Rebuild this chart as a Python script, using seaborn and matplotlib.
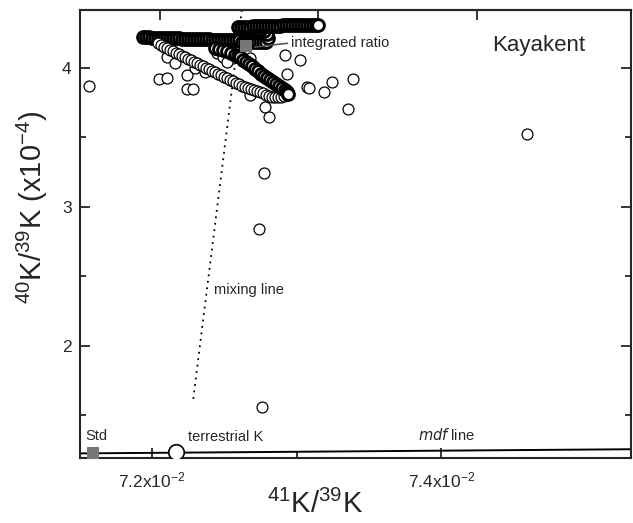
import matplotlib
matplotlib.use("Agg")
import matplotlib.pyplot as plt
import seaborn as sns
import pandas as pd

# ---------------- data (x in units of 1e-2, y in units of 1e-4) ----------------
# dense time-resolved trajectory: long band (left -> right)
band_long_x = [7.1938, 7.1959, 7.1979, 7.2000, 7.2021, 7.2041, 7.2062, 7.2083, 7.2103, 7.2124,
               7.2145, 7.2166, 7.2186, 7.2207, 7.2228, 7.2248, 7.2269, 7.2290, 7.2310, 7.2331,
               7.2352, 7.2372, 7.2393, 7.2414, 7.2434, 7.2455, 7.2476, 7.2497, 7.2517, 7.2538,
               7.2559, 7.2579, 7.2600, 7.2621, 7.2641, 7.2662, 7.2683, 7.2703, 7.2724, 7.2745,
               7.2766, 7.2786]
band_long_y = [4.223, 4.223, 4.223, 4.216, 4.216, 4.216, 4.216, 4.216, 4.216, 4.216,
               4.216, 4.216, 4.216, 4.209, 4.209, 4.209, 4.209, 4.209, 4.209, 4.209,
               4.209, 4.209, 4.209, 4.201, 4.201, 4.201, 4.201, 4.201, 4.201, 4.201,
               4.201, 4.201, 4.201, 4.187, 4.187, 4.187, 4.187, 4.187, 4.187, 4.187,
               4.187, 4.187]
# lower (open) branch of the loop
band_low_x = [7.2041, 7.2062, 7.2083, 7.2103, 7.2124, 7.2145, 7.2166, 7.2186, 7.2207, 7.2228,
              7.2248, 7.2269, 7.2290, 7.2310, 7.2331, 7.2352, 7.2372, 7.2393, 7.2414, 7.2434,
              7.2455, 7.2476, 7.2497, 7.2517, 7.2538, 7.2559, 7.2579, 7.2600, 7.2621, 7.2641,
              7.2662, 7.2683, 7.2703, 7.2724, 7.2745, 7.2766, 7.2786, 7.2807, 7.2828, 7.2848,
              7.2869, 7.2890, 7.2910, 7.2931]
band_low_y = [4.180, 4.165, 4.151, 4.144, 4.129, 4.122, 4.108, 4.101, 4.086, 4.079,
              4.065, 4.058, 4.043, 4.036, 4.022, 4.014, 4.000, 3.993, 3.978, 3.971,
              3.957, 3.950, 3.935, 3.928, 3.914, 3.906, 3.892, 3.885, 3.871, 3.863,
              3.856, 3.849, 3.842, 3.835, 3.827, 3.820, 3.806, 3.799, 3.791, 3.791,
              3.791, 3.791, 3.799, 3.806]
# return branch of the loop (dense)
band_ret_x = [7.2434, 7.2462, 7.2490, 7.2517, 7.2545, 7.2572, 7.2593, 7.2607, 7.2628, 7.2648,
              7.2669, 7.2690, 7.2710, 7.2731, 7.2752, 7.2772, 7.2793, 7.2814, 7.2834, 7.2855,
              7.2876, 7.2897, 7.2917, 7.2931, 7.2938]
band_ret_y = [4.144, 4.137, 4.129, 4.122, 4.108, 4.094, 4.086, 4.079, 4.058, 4.043,
              4.029, 4.014, 3.993, 3.978, 3.957, 3.942, 3.928, 3.914, 3.899, 3.885,
              3.871, 3.856, 3.842, 3.827, 3.813]
# upper band (dense), ending with the last measurement at right
band_top_x = [7.2800, 7.2793, 7.2772, 7.2745, 7.2717, 7.2690, 7.2662, 7.2634, 7.2607, 7.2593,
              7.2614, 7.2634, 7.2655, 7.2676, 7.2697, 7.2717, 7.2738, 7.2759, 7.2779, 7.2800,
              7.2821, 7.2841, 7.2862, 7.2883, 7.2903, 7.2924, 7.2945, 7.2966, 7.2986, 7.3007,
              7.3028, 7.3048, 7.3069, 7.3090, 7.3110, 7.3131, 7.3145]
band_top_y = [4.216, 4.245, 4.266, 4.273, 4.273, 4.273, 4.273, 4.273, 4.281, 4.295,
              4.295, 4.295, 4.295, 4.295, 4.302, 4.302, 4.302, 4.302, 4.302, 4.302,
              4.302, 4.302, 4.302, 4.302, 4.309, 4.309, 4.309, 4.309, 4.309, 4.309,
              4.309, 4.309, 4.309, 4.309, 4.309, 4.309, 4.309]
# scattered individual measurements
scatter_x = [7.1566, 7.2103, 7.2159, 7.2048, 7.2103, 7.2241, 7.2241, 7.2283, 7.2366, 7.2297,
             7.2448, 7.2490, 7.2559, 7.2517, 7.2676, 7.2917, 7.3021, 7.2931, 7.3069, 7.3083,
             7.3186, 7.3241, 7.3386, 7.3352, 7.2676, 7.2779, 7.2807, 7.2772, 7.2738, 7.2759,
             7.4593]
scatter_y = [3.871, 4.079, 4.036, 3.921, 3.928, 3.950, 3.849, 3.849, 3.971, 4.000,
             4.108, 4.079, 4.072, 4.043, 4.072, 4.094, 4.058, 3.957, 3.863, 3.856,
             3.827, 3.899, 3.921, 3.705, 3.806, 3.719, 3.647, 3.245, 2.842, 1.561,
             3.525]

integrated_x, integrated_y = 7.2648, 4.158
std_x, std_y = 7.1593, 1.230
terr_x, terr_y = 7.2166, 1.236
mdf_x = [7.1503, 7.5310]
mdf_y = [1.227, 1.257]
mix_x = [7.2621, 7.2283]
mix_y = [4.417, 1.597]

xticks = [7.2, 7.4]
xtick_labels = ["7.2x10$^{-2}$", "7.4x10$^{-2}$"]
yticks = [2, 3, 4]
ytick_labels = ["2", "3", "4"]

# ---------------- style ----------------
sns.set_style("ticks")
plt.rcParams["font.family"] = ["Liberation Sans", "DejaVu Sans"]
plt.rcParams["mathtext.default"] = "regular"

fig = plt.figure(figsize=(6.33, 5.23), dpi=100)
ax = fig.add_axes([0.1264, 0.1243, 0.8704, 0.8566])

dense_kw = dict(s=72, facecolor="white", edgecolor="black", linewidth=2.1, legend=False)
open_kw = dict(s=62, facecolor="white", edgecolor="black", linewidth=0.9, legend=False)

sns.scatterplot(data=pd.DataFrame({"x": band_long_x, "y": band_long_y}), x="x", y="y", ax=ax, zorder=3, **dense_kw)
sns.scatterplot(data=pd.DataFrame({"x": scatter_x, "y": scatter_y}), x="x", y="y", ax=ax, zorder=3, **open_kw)
sns.scatterplot(data=pd.DataFrame({"x": band_low_x, "y": band_low_y}), x="x", y="y", ax=ax, zorder=3, **open_kw)
sns.scatterplot(data=pd.DataFrame({"x": band_ret_x, "y": band_ret_y}), x="x", y="y", ax=ax, zorder=3, **dense_kw)
sns.scatterplot(data=pd.DataFrame({"x": band_top_x, "y": band_top_y}), x="x", y="y", ax=ax, zorder=3, **dense_kw)

# mdf line and mixing line
ax.plot(mdf_x, mdf_y, color="black", lw=1.4, zorder=2)
ax.plot(mix_x, mix_y, color="black", lw=1.3, linestyle=(0, (1, 2.6)), zorder=2)

# special points
ax.scatter([integrated_x], [integrated_y], marker="s", s=85, color="#777777", zorder=5, linewidths=0)
ax.scatter([std_x], [std_y], marker="s", s=85, color="#777777", zorder=5, linewidths=0)
ax.scatter([terr_x], [terr_y], marker="o", s=125, facecolor="white", edgecolor="black", linewidths=1.2, zorder=5)

# annotations
ax.annotate("integrated ratio", xy=(7.2710, 4.151), xytext=(7.2959, 4.180),
            fontsize=10.5, ha="left", va="center",
            arrowprops=dict(arrowstyle="-", color="#555555", lw=1.2, shrinkA=0, shrinkB=0,
                            relpos=(0, 0.5)), zorder=6)
ax.text(7.4352, 4.158, "Kayakent", fontsize=16, ha="left", va="center")
ax.text(7.2428, 2.403, "mixing line", fontsize=10.5, ha="left", va="center")
ax.text(7.1538, 1.353, "Std", fontsize=10.5, ha="left", va="center")
ax.text(7.2248, 1.345, "terrestrial K", fontsize=10.5, ha="left", va="center")
ax.text(7.3841, 1.360, "$\\it{mdf}$ line", fontsize=10.5, ha="left", va="center")

# axes
ax.set_xlim(7.1503, 7.5310)
ax.set_ylim(1.194, 4.417)
ax.set_xticks(xticks)
ax.set_xticklabels(xtick_labels)
ax.set_xticks([7.3], minor=True)
ax.set_yticks(yticks)
ax.set_yticklabels(ytick_labels)
ax.set_yticks([1.5, 2.5, 3.5], minor=True)
ax.tick_params(which="both", direction="in", right=True, top=False, width=1.3, labelsize=12.5)
ax.tick_params(which="major", length=7)
ax.tick_params(which="minor", length=4.5)
ax.tick_params(axis="x", pad=9)
ax.tick_params(axis="y", pad=6)
for sp in ax.spines.values():
    sp.set_linewidth(1.5)
    sp.set_visible(True)

# top axis ticks (own scale in the original figure)
top = ax.secondary_xaxis("top")
top.set_xticks([7.2055, 7.3145, 7.4248])
top.tick_params(direction="in", length=7, width=1.3, labeltop=False)
top.spines["top"].set_linewidth(1.5)

ax.set_xlabel("$^{41}$K/$^{39}$K", fontsize=21)
ax.set_ylabel("$^{40}$K/$^{39}$K (x10$^{-4}$)", fontsize=21)
ax.xaxis.set_label_coords(0.426, -0.072)
ax.yaxis.set_label_coords(-0.054, 0.56)

fig.savefig("out.png", dpi=100)
